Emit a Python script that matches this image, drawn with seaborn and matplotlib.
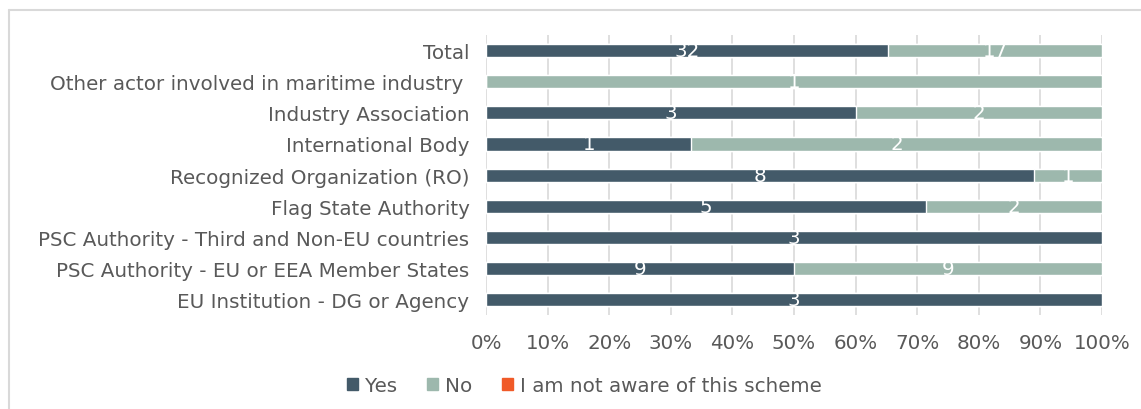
import pandas as pd
import numpy as np
import seaborn as sns
import matplotlib.pyplot as plt
from matplotlib.patches import Patch
from matplotlib.lines import Line2D

categories = [
    "Total",
    "Other actor involved in maritime industry ",
    "Industry Association",
    "International Body",
    "Recognized Organization (RO)",
    "Flag State Authority",
    "PSC Authority - Third and Non-EU countries",
    "PSC Authority - EU or EEA Member States",
    "EU Institution - DG or Agency",
]
yes = [32, 0, 3, 1, 8, 5, 3, 9, 3]
no = [17, 1, 2, 2, 1, 2, 0, 9, 0]
not_aware = [0, 0, 0, 0, 0, 0, 0, 0, 0]
series_names = ["Yes", "No", "I am not aware of this scheme"]

c_yes = "#435A69"
c_no = "#9DB8AD"
c_na = "#F05A28"
txt_col = "#595959"
fs = 14.3

df = pd.DataFrame({"category": categories, "yes": yes, "no": no, "na": not_aware})
df["n"] = df["yes"] + df["no"] + df["na"]
df["yes_pct"] = df["yes"] / df["n"] * 100
df["no_end"] = (df["yes"] + df["no"]) / df["n"] * 100
df["na_end"] = 100.0

sns.set_style("white")
plt.rcParams["font.family"] = ["DejaVu Sans"]

fig = plt.figure(figsize=(11.41, 4.10), dpi=100)
ax = fig.add_axes([0.426, 0.229, 0.5398, 0.683])

# stacked bars drawn back to front
sns.barplot(data=df, y="category", x="na_end", order=categories, color=c_na,
            width=0.42, saturation=1, ax=ax)
sns.barplot(data=df, y="category", x="no_end", order=categories, color=c_no,
            width=0.42, saturation=1, ax=ax)
sns.barplot(data=df, y="category", x="yes_pct", order=categories, color=c_yes,
            width=0.42, saturation=1, ax=ax)

# segment labels
for i, row in df.iterrows():
    if row["yes"] > 0:
        ax.text(row["yes_pct"] / 2, i, str(row["yes"]), ha="center", va="center",
                color="white", fontsize=fs)
    if row["no"] > 0:
        ax.text((row["yes_pct"] + row["no_end"]) / 2, i, str(row["no"]),
                ha="center", va="center", color="white", fontsize=fs)

ax.set_xlim(0, 100)
ax.set_xticks(np.arange(0, 101, 10))
ax.set_xticklabels([f"{v}%" for v in range(0, 101, 10)])
ax.xaxis.grid(True, color="#D9D9D9", linewidth=1.2)
ax.set_axisbelow(True)
ax.set_xlabel("")
ax.set_ylabel("")
for s in ax.spines.values():
    s.set_visible(False)
ax.tick_params(axis="both", length=0, labelsize=fs, labelcolor=txt_col)
ax.tick_params(axis="x", pad=13)
ax.tick_params(axis="y", pad=12)

handles = [Patch(color=c_yes), Patch(color=c_no), Patch(color=c_na)]
fig.legend(handles, series_names, loc="center", bbox_to_anchor=(0.512, 0.057),
           ncol=3, frameon=False, fontsize=fs, labelcolor=txt_col,
           handlelength=0.55, handleheight=0.55, handletextpad=0.35,
           columnspacing=1.5)

# chart frame (left and top edges visible)
fig.add_artist(Line2D([8.5 / 1141, 8.5 / 1141], [0, 1 - 10.5 / 410],
                      color="#D9D9D9", linewidth=1.5))
fig.add_artist(Line2D([8.5 / 1141, 1], [1 - 10.5 / 410, 1 - 10.5 / 410],
                      color="#D9D9D9", linewidth=1.5))

fig.savefig("out.png", dpi=100)
